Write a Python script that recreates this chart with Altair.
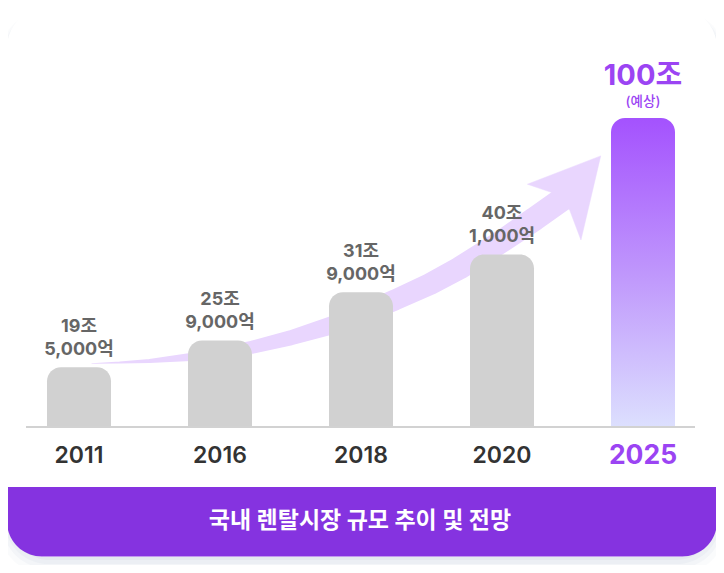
import altair as alt
import pandas as pd

# ---- data ----
years = ["2011", "2016", "2018", "2020", "2025"]
trillion = [19, 25, 31, 40, 100]            # 조
hundred_million = [5000, 9000, 9000, 1000, 0]  # 억
bar_height = [19.1, 27.8, 43.4, 55.7, 100.0]   # drawn bar heights (relative units, 2025 = 100)
forecast = [False, False, False, False, True]
title_text = "국내 렌탈시장 규모 추이 및 전망"

# decorative growth arrow (in chart units: x = year slot, y = relative height)
arrow_x = [0.09, 0.29, 0.50, 0.79, 1.07, 1.23, 1.50, 1.78, 2.01, 2.24, 2.49, 2.70, 2.99, 3.23, 3.43]
arrow_y = [20.3, 20.6, 21.1, 22.4, 24.4, 25.6, 28.6, 32.5, 36.4, 40.9, 46.1, 51.3, 59.7, 67.2, 73.7]
arrow_w = [0.5, 2, 4, 8, 11, 13, 15, 18, 20, 21, 22, 23, 23, 24, 24]
head_x = [3.70, 3.56, 3.48, 3.36, 3.18, 3.70]
head_y = [87.7, 60.4, 70.1, 75.7, 78.5, 87.7]

# ---- styles ----
FONT = "Inter, 'Noto Sans CJK KR', sans-serif"
GRAY_BAR = "#d1d1d1"
PURPLE = "#9b44f3"
BANNER = "#8533e0"
ARROW = "#e9d6fe"
W, H = 708, 557

bars = pd.DataFrame({
    "year": years,
    "idx": list(range(len(years))),
    "h": bar_height,
    "forecast": forecast,
    "line1": [f"{t}조" for t in trillion],
    "line2": [("(예상)" if f else f"{e:,}억") for e, f in zip(hundred_million, forecast)],
})
hist = bars[~bars["forecast"]]
fut = bars[bars["forecast"]]

arrow = pd.DataFrame({"x": arrow_x, "y": arrow_y, "w": arrow_w, "o": list(range(len(arrow_x)))})
head = pd.DataFrame({"x": head_x, "y": head_y, "o": list(range(len(head_x)))})
one = pd.DataFrame({"a": [0]})

xs = alt.Scale(domain=[0, 4], range=[71, 635], nice=False, zero=False, padding=0)
ys = alt.Scale(domain=[0, 100], range=[418, 110], nice=False, zero=False, padding=0)
X = lambda f: alt.X(f, type="quantitative", scale=xs, axis=None)
Y = lambda f: alt.Y(f, type="quantitative", scale=ys, axis=None)

layers = []

# card shadow (soft, stacked)
for k, op in [(16, 0.10), (11, 0.13), (7, 0.17), (3, 0.22)]:
    layers.append(
        alt.Chart(one).mark_rect(fill="#cbd4df", opacity=op, cornerRadius=44).encode(
            x=alt.value(-k / 2), x2=alt.value(709 + k / 2), y=alt.value(4), y2=alt.value(549 + k)
        )
    )
# card
layers.append(
    alt.Chart(one).mark_rect(fill="white", cornerRadius=40).encode(
        x=alt.value(-1), x2=alt.value(709), y=alt.value(0), y2=alt.value(549)
    )
)
# banner
layers.append(
    alt.Chart(one).mark_rect(fill=BANNER, cornerRadiusBottomLeft=42, cornerRadiusBottomRight=42).encode(
        x=alt.value(-1), x2=alt.value(709), y=alt.value(479), y2=alt.value(548.5)
    )
)
layers.append(
    alt.Chart(pd.DataFrame({"t": [title_text]})).mark_text(
        font=FONT, fontSize=23, fontWeight="bold", color="white", baseline="middle", align="center"
    ).encode(x=alt.value(352), y=alt.value(513), text="t:N")
)

# arrow body and head
layers.append(
    alt.Chart(arrow).mark_trail(color=ARROW).encode(
        x=X("x"), y=Y("y"), size=alt.Size("w:Q", scale=None, legend=None), order="o:Q"
    )
)
layers.append(
    alt.Chart(head).mark_line(fill=ARROW, stroke=ARROW, strokeWidth=0.5, interpolate="linear").encode(
        x=X("x"), y=Y("y"), order="o:Q"
    )
)

# bars
layers.append(
    alt.Chart(hist).mark_bar(width=64, color=GRAY_BAR, cornerRadiusTopLeft=14, cornerRadiusTopRight=14).encode(
        x=X("idx"), y=Y("h"), y2=alt.datum(0)
    )
)
grad = alt.Gradient(
    gradient="linear",
    stops=[
        alt.GradientStop(color="#a452fe", offset=0),
        alt.GradientStop(color="#bf96fc", offset=0.5),
        alt.GradientStop(color="#dcdffe", offset=1),
    ],
    x1=0, x2=0, y1=0, y2=1,
)
layers.append(
    alt.Chart(fut).mark_bar(width=64, color=grad, cornerRadiusTopLeft=14, cornerRadiusTopRight=14).encode(
        x=X("idx"), y=Y("h"), y2=alt.datum(0)
    )
)

# baseline
layers.append(
    alt.Chart(one).mark_rule(color="#d2d2d2", strokeWidth=2).encode(
        x=alt.value(18), x2=alt.value(687), y=alt.value(419)
    )
)

# value labels
layers.append(
    alt.Chart(hist).mark_text(font=FONT, fontSize=18, fontWeight="bold", color="#666666",
                              baseline="alphabetic", dy=-35).encode(x=X("idx"), y=Y("h"), text="line1:N")
)
layers.append(
    alt.Chart(hist).mark_text(font=FONT, fontSize=18, fontWeight="bold", color="#666666",
                              baseline="alphabetic", dy=-12.5).encode(x=X("idx"), y=Y("h"), text="line2:N")
)
layers.append(
    alt.Chart(fut).mark_text(font=FONT, fontSize=29, fontWeight="bold", color=PURPLE,
                             baseline="alphabetic", dy=-33).encode(x=X("idx"), y=Y("h"), text="line1:N")
)
layers.append(
    alt.Chart(fut).mark_text(font=FONT, fontSize=13.5, fontWeight=500, color=PURPLE,
                             baseline="alphabetic", dy=-12.5).encode(x=X("idx"), y=Y("h"), text="line2:N")
)

# year labels
layers.append(
    alt.Chart(hist).mark_text(font=FONT, fontSize=23, fontWeight=600, color="#333333",
                              baseline="middle").encode(x=X("idx"), y=alt.value(448), text="year:N")
)
layers.append(
    alt.Chart(fut).mark_text(font=FONT, fontSize=26.5, fontWeight="bold", color=PURPLE,
                             baseline="middle").encode(x=X("idx"), y=alt.value(448), text="year:N")
)

chart = alt.layer(*layers).properties(
    width=W, height=H, padding=0, autosize=alt.AutoSizeParams(type="none"), background="white"
).configure_view(stroke=None)

chart.save("out.html", embed_options={"renderer": "svg", "actions": False})
